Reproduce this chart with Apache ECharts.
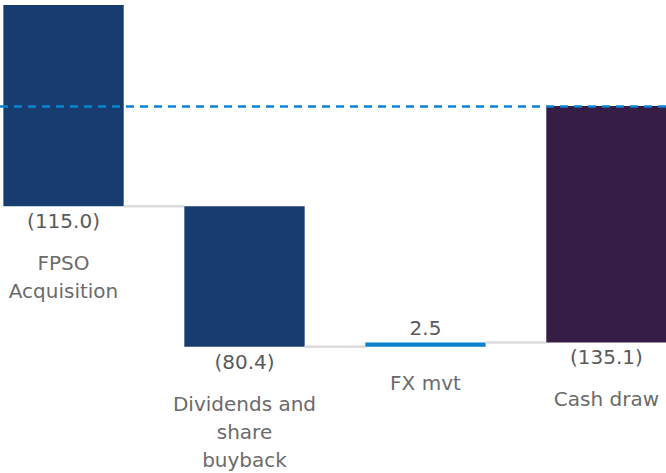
<!DOCTYPE html>
<html>
<head>
<meta charset="utf-8">
<script src="https://cdn.jsdelivr.net/npm/echarts@6/dist/echarts.min.js"></script>
<style>
  html, body { margin: 0; padding: 0; background: #fff; }
  #chart { width: 666px; height: 473px; }
</style>
</head>
<body>
<div id="chart"></div>
<script>
// categories visible in this slice of the waterfall
const categories = ["FPSO\nAcquisition", "Dividends and\nshare\nbuyback", "FX mvt", "Cash draw"];
// movements (last one is the total bar, drawn from zero)
const values = [-115.0, -80.4, 2.5, -135.1];
const isTotal = [false, false, false, true];
// running level carried in from the items left of this slice
const openingLevel = 57.8;
const barColors = ["#173c6f", "#173c6f", "#0b82cc", "#361d45"];

// build start/end for every bar
const rows = [];
let level = openingLevel;
values.forEach((v, i) => {
  if (isTotal[i]) {
    rows.push([i, 0, v, v]);
    level = v;
  } else {
    rows.push([i, level, level + v, v]);
    level = level + v;
  }
});

const fmt = (v) => (v < 0 ? "(" + Math.abs(v).toFixed(1) + ")" : v.toFixed(1));
const font = "'DejaVu Sans', sans-serif";

const chart = echarts.init(document.getElementById("chart"), null, { renderer: "svg" });

const option = {
  animation: false,
  grid: { left: 0, right: 0, top: 0, bottom: 0 },
  // the slice is cut at both sides, so the x range runs past the outer bars
  xAxis: {
    type: "value",
    min: -0.351,
    max: 3.329,
    show: false,
  },
  yAxis: {
    type: "value",
    min: -209.7,
    max: 60.6,
    show: false,
  },
  series: [
    {
      // zero reference line
      type: "line",
      data: [],
      z: 1,
      markLine: {
        silent: true,
        symbol: "none",
        label: { show: false },
        lineStyle: { color: "#0a84d2", type: [8, 6], width: 2.5 },
        data: [{ yAxis: 0 }],
      },
    },
    {
      type: "custom",
      z: 2,
      data: rows,
      renderItem: (params, api) => {
        const i = api.value(0);
        const start = api.value(1);
        const end = api.value(2);
        const v = api.value(3);
        const bw = api.size([1, 0])[0] * 0.665;
        const p1 = api.coord([i, start]);
        const p2 = api.coord([i, end]);
        const x = p1[0] - bw / 2;
        const top = Math.min(p1[1], p2[1]);
        const bottom = Math.max(p1[1], p2[1]);
        const children = [];
        children.push({
          type: "rect",
          shape: { x: x, y: top, width: bw, height: Math.max(bottom - top, 2) },
          style: { fill: barColors[i] },
        });
        // connector to the next bar
        if (i < rows.length - 1) {
          const next = api.coord([i + 1, end]);
          children.push({
            type: "line",
            shape: { x1: x + bw, y1: p2[1], x2: next[0] - bw / 2, y2: p2[1] },
            style: { stroke: "#dcdcdc", lineWidth: 2.5 },
          });
        }
        const labelGap = v < 0 ? 43 : 22;
        if (v < 0) {
          children.push({
            type: "text",
            style: {
              text: fmt(v), x: p1[0], y: bottom + 5,
              align: "center", verticalAlign: "top",
              fontFamily: font, fontSize: 20, fill: "#595959",
            },
          });
        } else {
          children.push({
            type: "text",
            style: {
              text: fmt(v), x: p1[0], y: top - 4,
              align: "center", verticalAlign: "bottom",
              fontFamily: font, fontSize: 20, fill: "#595959",
            },
          });
        }
        children.push({
          type: "text",
          style: {
            text: categories[i], x: p1[0], y: bottom + labelGap,
            align: "center", verticalAlign: "top", lineHeight: 28,
            fontFamily: font, fontSize: 20, fill: "#6b6b6b",
          },
        });
        return { type: "group", children: children };
      },
    },
  ],
};

chart.setOption(option);
</script>
</body>
</html>
